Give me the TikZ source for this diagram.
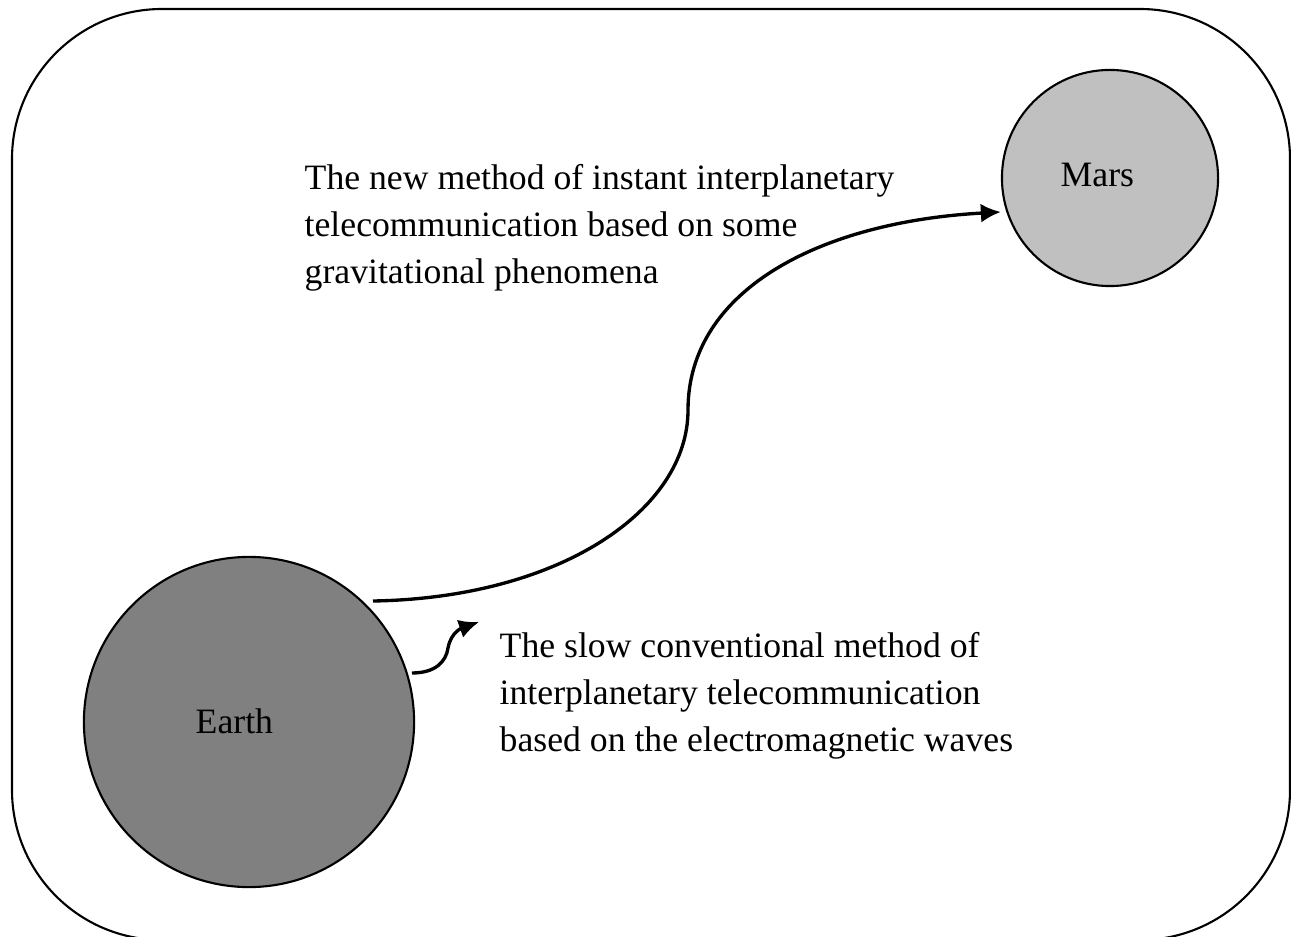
\documentclass[tikz,border=0pt]{standalone}
\usepackage{fontspec}
\setmainfont{Liberation Serif}
\usetikzlibrary{arrows,arrows.meta,positioning}

\tikzset{
  planet/.style={circle,draw,line width=0.6pt,inner sep=0pt},
  txt/.style={inner sep=0pt,align=left,font=\fontsize{10.15pt}{13.3pt}\selectfont},
  link/.style={line width=0.95pt,-{Latex[length=2mm,width=1.9mm]}}
}

\begin{document}
\begin{tikzpicture}[x=0.01cm,y=-0.01cm]
\useasboundingbox (0,0) rectangle (1291,937);
\begin{scope}
\clip (0,0) rectangle (1291,937);
\draw[line width=0.6pt,rounded corners=1.5cm] (12,9) rectangle (1290,940);
\end{scope}
% planets
\node[planet,fill={rgb,255:red,128;green,128;blue,128},minimum size=3.3cm] (earth) at (249,722) {};
\node[planet,fill={rgb,255:red,192;green,192;blue,192},minimum size=2.16cm] (mars) at (1110,178) {};
\node[txt,anchor=base west] (earthlbl) at (195,733) {Earth};
\node[txt,anchor=base west] (marslbl) at (1060,187) {Mars};
% captions
\node[txt,anchor=north west] (newm) at (304,164) {The new method of instant interplanetary\\telecommunication based on some\\gravitational phenomena};
\node[txt,anchor=north west] (slowm) at (499,632) {The slow conventional method of\\interplanetary telecommunication\\based on the electromagnetic waves};
% arrows
\coordinate (a0) at (373,601);
\coordinate (a1) at (688,410);
\coordinate (b0) at (412,673);
\coordinate (b1) at (448,648);
\coordinate (b2) at (479,622);
\draw[link] (a0) .. controls (560,598) and (688,510) .. (a1) .. controls (688,290) and (820,222) .. (mars.west|-0,212);
\draw[link] (b0) .. controls (435,673) and (446,662) .. (b1) .. controls (451,632) and (462,628) .. (b2);
\end{tikzpicture}
\end{document}
